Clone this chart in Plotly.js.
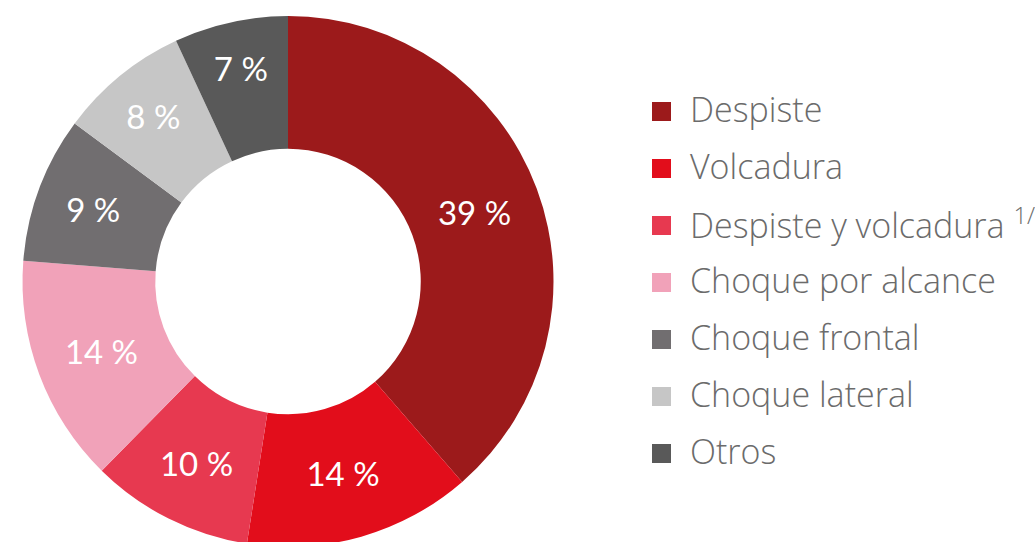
<!DOCTYPE html>
<html>
<head>
<meta charset="utf-8">
<script src="https://cdn.plot.ly/plotly-3.0.1.min.js"></script>
<style>html,body{margin:0;padding:0;overflow:hidden;background:#fff}</style>
</head>
<body>
<div id="chart" style="width:1035px;height:547px"></div>
<script>
const categories = ["Despiste", "Volcadura", "Despiste y volcadura", "Choque por alcance", "Choque frontal", "Choque lateral", "Otros"];
const legendLabels = ["Despiste", "Volcadura", "Despiste y volcadura <sup>1/</sup>", "Choque por alcance", "Choque frontal", "Choque lateral", "Otros"];
const values = [39, 14, 10, 14, 9, 8, 7];
const sliceColors = ["#9c1a1b", "#e20d1b", "#e73950", "#f1a2b9", "#716e70", "#c6c6c6", "#595959"];

const W = 1035, H = 547, TOP = 16;
const plotH = H - TOP;
const py = p => 1 - (p - TOP) / plotH;
const px = p => p / W;

const shapes = [];
const annotations = [];
categories.forEach((c, i) => {
  const rowTop = 102 + 57 * i;
  shapes.push({
    type: "rect", xref: "paper", yref: "paper",
    x0: px(652), x1: px(671), y0: py(rowTop + 19), y1: py(rowTop),
    fillcolor: sliceColors[i], line: {width: 0}
  });
  annotations.push({
    xref: "paper", yref: "paper", x: px(688), y: py(rowTop + 7),
    xanchor: "left", yanchor: "middle", showarrow: false,
    text: legendLabels[i],
    font: {family: "Open Sans", size: 34, color: "#6b6b6b", weight: 300}
  });
});

const data = [{
  type: "pie",
  labels: categories,
  values: values,
  marker: {colors: sliceColors, line: {width: 0}},
  hole: 0.5,
  sort: false,
  direction: "clockwise",
  rotation: 0,
  textinfo: "none",
  texttemplate: "%{value} %",
  textposition: "inside",
  insidetextorientation: "horizontal",
  textfont: {family: "Lato", size: 33, color: "#ffffff"},
  hoverinfo: "label+value",
  showlegend: false,
  domain: {x: [px(22), px(554)], y: [0, 1]}
}];

const layout = {
  width: W, height: H,
  margin: {l: 0, r: 0, t: TOP, b: 0, pad: 0},
  paper_bgcolor: "#ffffff",
  plot_bgcolor: "#ffffff",
  showlegend: false,
  shapes: shapes,
  annotations: annotations
};

Plotly.newPlot("chart", data, layout, {displayModeBar: false, staticPlot: true});
</script>
</body>
</html>
